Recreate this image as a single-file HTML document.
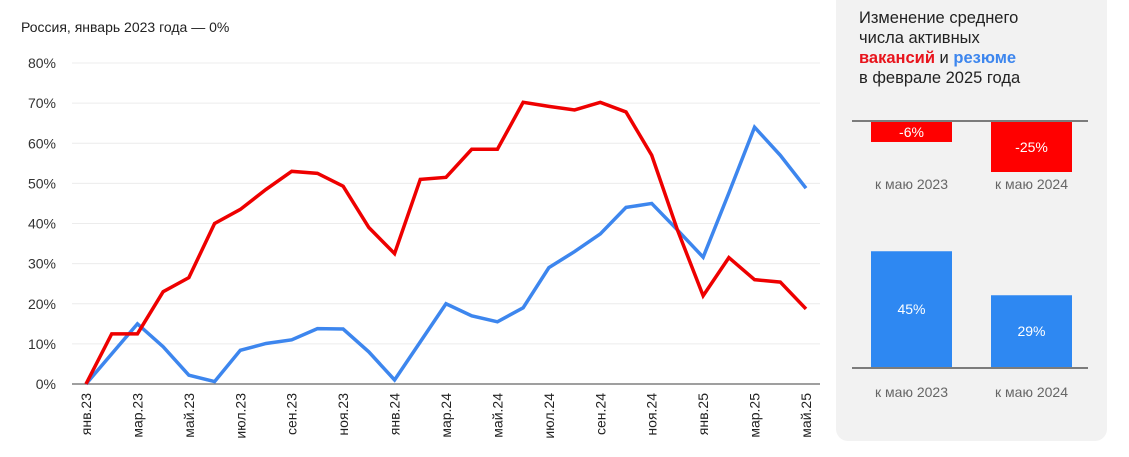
<!DOCTYPE html>
<html><head><meta charset="utf-8"><style>
html,body{margin:0;padding:0;background:#fff;width:1129px;height:457px;overflow:hidden;font-family:"Liberation Sans",sans-serif;}
svg text{font-family:"Liberation Sans",sans-serif;}
</style></head><body>
<svg id="chart" width="1129" height="457" viewBox="0 0 1129 457" xmlns="http://www.w3.org/2000/svg">
<text x="21" y="32" font-size="14" fill="#222">Россия, январь 2023 года —  0%</text>
<g id="grid"></g><g id="xlabels"></g><g id="lines"></g>
<rect x="836" y="-12" width="271" height="453" rx="12" fill="#f2f2f2"/>
<text font-size="16.5" fill="#222">
<tspan x="859" y="23">Изменение среднего</tspan>
<tspan x="859" y="43">числа активных</tspan>
<tspan x="859" y="63"><tspan fill="#e8141c" font-weight="bold">вакансий</tspan> и <tspan fill="#3d86ee" font-weight="bold">резюме</tspan></tspan>
<tspan x="859" y="83">в феврале 2025 года</tspan></text>
<g id="panel"></g>
</svg>
<script>
const months=['янв.23','фев.23','мар.23','апр.23','май.23','июн.23','июл.23','авг.23','сен.23','окт.23','ноя.23','дек.23','янв.24','фев.24','мар.24','апр.24','май.24','июн.24','июл.24','авг.24','сен.24','окт.24','ноя.24','дек.24','янв.25','фев.25','мар.25','апр.25','май.25'];
const vacancies=[0,12.5,12.5,23,26.5,40,43.5,48.5,53,52.5,49.3,39,32.5,51,51.5,58.5,58.5,70.2,69.2,68.3,70.2,67.8,57,38.4,22,31.5,26,25.4,18.7];
const resumes=[0,7.5,15,9.3,2.2,0.6,8.4,10.1,11,13.8,13.7,8,1,10.5,20,17,15.5,19,29,33,37.4,44,45,38.4,31.6,47.6,64,57,48.8];
const yTicks=[0,10,20,30,40,50,60,70,80];
const panelCats=['к маю 2023','к маю 2024'];
const vacChange=[-6,-25];
const resChange=[45,29];
const NS='http://www.w3.org/2000/svg';
function mk(t,a,p){const e=document.createElementNS(NS,t);for(const k in a)e.setAttribute(k,a[k]);p.appendChild(e);return e;}
const x=i=>86+i*(806-86)/(months.length-1);
const y=v=>384-v*(384-63)/80;
const grid=document.getElementById('grid');
yTicks.forEach(t=>{
  const l=mk('line',{x1:72,x2:820,y1:y(t),y2:y(t),stroke:t===0?'#666':'#ececec','stroke-width':t===0?1.3:1},grid);
  
  
  const tx=mk('text',{x:56,y:y(t)+5,'text-anchor':'end','font-size':14,fill:'#333'},grid);
  tx.textContent=t+'%';
  
  
});
const xl=document.getElementById('xlabels');
months.forEach((m,i)=>{if(i%2)return;
  const tx=mk('text',{transform:`translate(${x(i)+5},393) rotate(-90)`,'text-anchor':'end','font-size':14,fill:'#222'},xl);
  tx.textContent=m;
  
  
});
const lg=document.getElementById('lines');
[[resumes,'#3d86ee','resumes-line'],[vacancies,'#ee0000','vacancies-line']].forEach(([d,c,n])=>{
  const p=mk('polyline',{points:d.map((v,i)=>x(i)+','+y(v)).join(' '),fill:'none',stroke:c,'stroke-width':3.5,'stroke-linejoin':'miter'},lg);
  
  
});
const pg=document.getElementById('panel');
const bx=[871,991],bw=81;
const redH=v=>10.5+1.58*Math.abs(v);
const blueH=v=>-8+2.75*v;
const a1=mk('line',{x1:852,x2:1088,y1:121,y2:121,stroke:'#555','stroke-width':1.5},pg);


const a2=mk('line',{x1:852,x2:1088,y1:368,y2:368,stroke:'#555','stroke-width':1.5},pg);


vacChange.forEach((v,i)=>{
  const h=redH(v);
  const r=mk('rect',{x:bx[i],y:122,width:bw,height:h,fill:'#ff0000'},pg);
  
  
  const t=mk('text',{x:bx[i]+bw/2,y:122+h/2+5,'text-anchor':'middle','font-size':14,fill:'#fff'},pg);
  t.textContent=v+'%';
  
  
  const c=mk('text',{x:bx[i]+bw/2,y:189,'text-anchor':'middle','font-size':14,fill:'#666'},pg);
  c.textContent=panelCats[i];
  
  
});
resChange.forEach((v,i)=>{
  const h=blueH(v);
  const r=mk('rect',{x:bx[i],y:367-h,width:bw,height:h,fill:'#2e88f2'},pg);
  
  
  const t=mk('text',{x:bx[i]+bw/2,y:367-h/2+5,'text-anchor':'middle','font-size':14,fill:'#fff'},pg);
  t.textContent=v+'%';
  
  
  const c=mk('text',{x:bx[i]+bw/2,y:397,'text-anchor':'middle','font-size':14,fill:'#666'},pg);
  c.textContent=panelCats[i];
  
  
});
</script>
</body></html>
